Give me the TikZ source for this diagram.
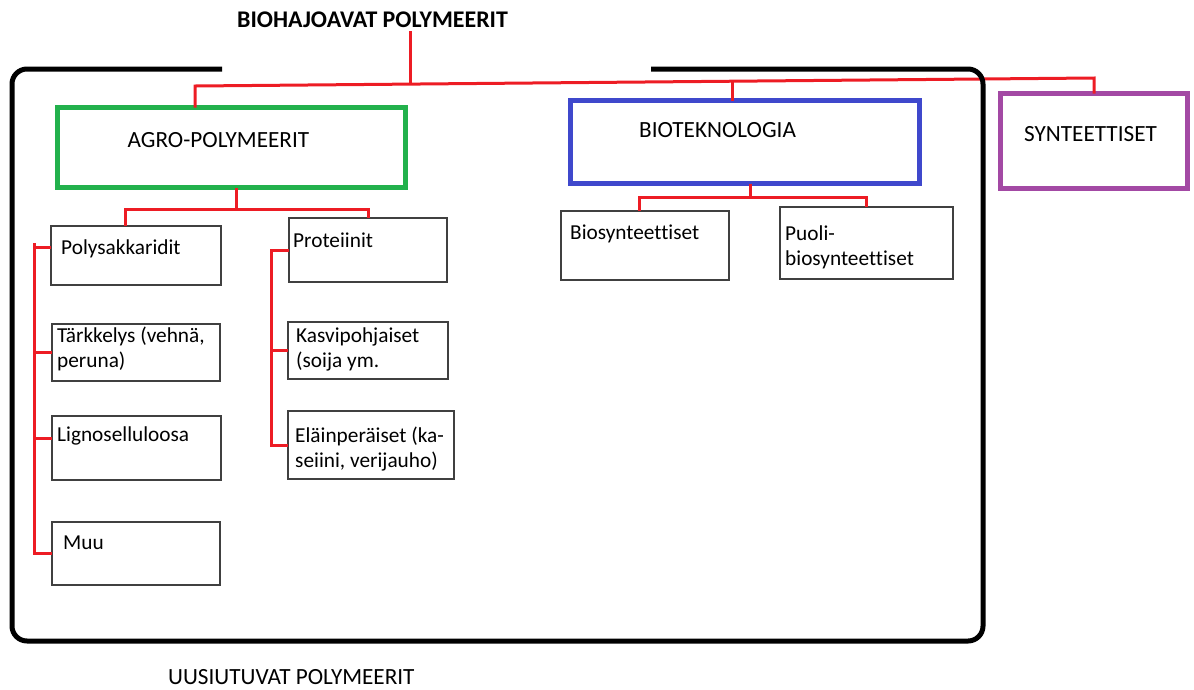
\documentclass[tikz,border=0pt]{standalone}
\usepackage{fontspec}
\setmainfont{Carlito}[Ligatures=NoCommon]
\usepackage{xcolor}
\usetikzlibrary{calc,positioning}
\definecolor{paintred}{RGB}{237,28,36}
\definecolor{paintgreen}{RGB}{34,177,76}
\definecolor{paintblue}{RGB}{63,72,204}
\definecolor{paintpurple}{RGB}{163,73,164}
\definecolor{boxgray}{RGB}{64,64,64}
\begin{document}
\begin{tikzpicture}[x=1pt,y=-1pt,
  font=\fontsize{21.3}{25}\selectfont,
  link/.style={draw=paintred,line width=3pt},
  group/.style={draw=#1,line width=5pt,anchor=north west,inner sep=0,outer sep=0},
  leaf/.style={draw=boxgray,line width=1.5pt,anchor=north west,inner sep=0,outer sep=0},
  txt/.style={anchor=base west,inner sep=0,align=left},
  big/.style={font=\fontsize{23.2}{28}\selectfont},
  frame/.style={line width=5pt,rounded corners=15pt}]
\useasboundingbox (0,0) rectangle (1194,689);
%%% Title
\node[txt,font=\fontsize{23.9}{28}\selectfont\bfseries] (title) at (237,27) {BIOHAJOAVAT POLYMEERIT};
%%% Main groups
\node[group=paintgreen,minimum width=348pt,minimum height=80pt] (agro) at (57.5,107.5) {};
\node[group=paintblue,minimum width=349pt,minimum height=83pt] (biotek) at (570,100.5) {};
\node[group=paintpurple,minimum width=187pt,minimum height=95pt] (synt) at (1000,93.5) {};
\node[txt,big] (agroT) at ($(agro.north west)+(70,40)$) {AGRO-POLYMEERIT};
\node[txt,big] (biotekT) at ($(biotek.north west)+(69,36.5)$) {BIOTEKNOLOGIA};
\node[txt,big] (syntT) at ($(synt.north west)+(24,47.5)$) {SYNTEETTISET};
%%% Agro-polymeerit boxes
\node[leaf,minimum width=170pt,minimum height=59pt] (poly) at (51,226) {};
\node[leaf,minimum width=168pt,minimum height=57pt] (taerk) at (52,324) {};
\node[leaf,minimum width=169pt,minimum height=64pt] (ligno) at (52,416) {};
\node[leaf,minimum width=168pt,minimum height=63pt] (muu) at (52,522) {};
\node[leaf,minimum width=158pt,minimum height=64pt] (prot) at (289,218) {};
\node[leaf,minimum width=160pt,minimum height=57pt] (kasvi) at (288,322) {};
\node[leaf,minimum width=166pt,minimum height=68pt] (elain) at (288,411) {};
\node[txt] (polyT) at ($(poly.north west)+(10,28)$) {Polysakkaridit};
\node[txt] (taerkT) at ($(taerk.north west)+(5,43)$) {Tärkkelys (vehnä,\\peruna)};
\node[txt] (lignoT) at ($(ligno.north west)+(5,25)$) {Lignoselluloosa};
\node[txt] (muuT) at ($(muu.north west)+(11,27)$) {Muu};
\node[txt] (protT) at ($(prot.north west)+(4,29)$) {Proteiinit};
\node[txt] (kasviT) at ($(kasvi.north west)+(8,45)$) {Kasvipohjaiset\\(soija ym.};
\node[txt] (elainT) at ($(elain.north west)+(7,56)$) {Eläinperäiset (ka-\\seiini, verijauho)};
%%% Bioteknologia boxes
\node[leaf,minimum width=168pt,minimum height=69pt] (biosyn) at (561,211) {};
\node[leaf,minimum width=173pt,minimum height=72pt] (puoli) at (780,207) {};
\node[txt] (biosynT) at ($(biosyn.north west)+(9,28)$) {Biosynteettiset};
\node[txt] (puoliT) at ($(puoli.north west)+(5,58)$) {Puoli-\\biosynteettiset};
%%% Red connectors
\coordinate (busL) at (195,86);
\coordinate (busR) at (1094,78);
\coordinate (hub) at ($(busL)!0.24!(busR)$);
\coordinate (busB) at ($(busL)!0.598!(busR)$);
\draw[link] (title.south -| hub) ++(0,4) -- (hub);
\draw[link] (agro.north -| busL) -- (busL) -- (busR) -- (busR |- synt.north);
\draw[link] (busB) -- (busB |- biotek.north);
\coordinate (agroJ) at (236,209);
\draw[link] (agro.south -| agroJ) -- (agroJ);
\draw[link] ([xshift=-11pt]poly.north) |- (agroJ) -| (prot.north);
\coordinate (bioJ) at (750,197);
\draw[link] (biotek.south -| bioJ) -- (bioJ);
\draw[link] ([xshift=-6pt]biosyn.north) |- (bioJ) -| (puoli.north);
%% left spine
\coordinate (spL) at (34,243);
\draw[link] (spL) -- (spL |- muu.west) -- (muu.west);
\draw[link] ([yshift=8pt]poly.west) -- ++(-17,0);
\draw[link] (taerk.west) -- ++(-18,0);
\draw[link] ([yshift=10pt]ligno.west) -- ++(-18,0);
%% right spine
\coordinate (spR) at (271,246);
\draw[link] (prot.west) -- (prot.west -| spR) -- (elain.west -| spR) -- (elain.west);
\draw[link] (kasvi.west) -- (kasvi.west -| spR);
%%% Renewable frame
\draw[frame] (222,69) -- (12,69) -- (12,641) -- (983,641) -- (983,69) -- (651,69);
\node[txt,big] (renew) at (168,684) {UUSIUTUVAT POLYMEERIT};
\end{tikzpicture}
\end{document}
